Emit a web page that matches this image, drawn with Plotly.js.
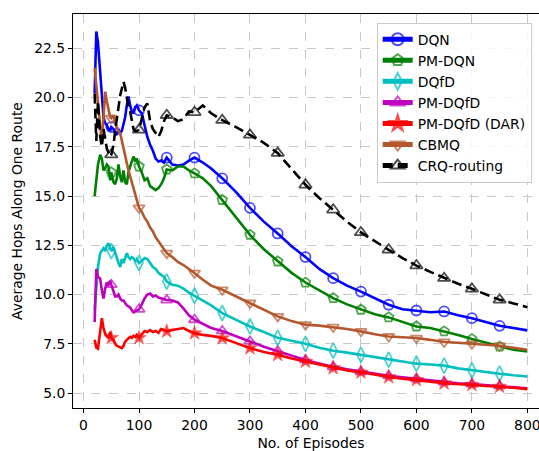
<!DOCTYPE html>
<html>
<head>
<meta charset="utf-8">
<script src="https://cdn.plot.ly/plotly-3.0.1.min.js"></script>
<style>
html, body { margin: 0; padding: 0; overflow: hidden; background: #fff; }
#chart { width: 560px; height: 451px; }
</style>
</head>
<body>
<div id="chart"></div>
<script>
// Episodes (shared x values)
const episodes = [20,23,26,30,33,36,39,42,45,48,
  50,54,57,60,63,66,69,72,75,78,
  81,84,87,90,93,96,100,105,110,115,
  120,125,130,135,140,145,150,160,170,180,
  190,200,215,230,250,275,300,325,350,375,
  400,425,450,475,500,525,550,575,600,625,
  650,675,700,725,750,775,800];

const seriesNames = ["DQN","PM-DQN","DQfD","PM-DQfD","PM-DQfD (DAR)","CBMQ","CRQ-routing"];

const dqn = [20.2,23.35,22.8,21.3,20.3,19.0,18.7,18.6,18.4,18.3,
  18.5,18.4,18.2,18.1,18.4,18.2,18.3,18.6,19.0,19.6,
  20.05,19.6,19.3,19.2,19.5,19.6,19.35,19.2,18.6,18.0,
  17.6,17.3,16.9,16.75,16.8,16.7,16.95,16.6,16.55,16.6,
  16.8,16.95,16.7,16.4,15.9,15.2,14.4,13.7,13.1,12.45,
  11.9,11.3,10.83,10.45,10.15,9.8,9.48,9.25,9.19,9.1,
  9.14,8.95,8.8,8.6,8.41,8.3,8.18];

const pmDqn = [15.0,16.0,16.6,17.1,16.9,16.3,16.4,16.6,16.5,15.8,
  16.2,15.7,15.6,15.9,16.6,16.0,15.7,16.3,15.7,15.6,
  16.2,16.5,16.8,17.0,16.8,16.9,16.5,16.2,15.8,15.9,
  15.5,15.4,15.3,15.4,15.6,15.9,16.35,16.3,16.5,16.5,
  16.3,16.15,15.9,15.5,14.8,13.9,13.03,12.3,11.68,11.1,
  10.61,10.2,9.82,9.5,9.23,9.0,8.84,8.6,8.38,8.3,
  8.13,7.95,7.74,7.55,7.36,7.2,7.11];

const dqfd = [9.2,10.5,11.4,12.1,12.2,12.35,12.2,12.5,12.6,12.4,
  12.2,12.4,12.1,11.8,11.6,11.4,11.8,11.6,11.9,12.1,
  11.9,11.8,11.9,11.85,11.7,11.8,11.6,11.7,11.85,11.8,
  11.6,11.4,11.3,11.1,11.0,10.9,10.66,10.5,10.45,10.3,
  10.1,9.94,9.7,9.45,9.06,8.7,8.38,8.1,7.8,7.65,
  7.5,7.3,7.15,7.05,6.94,6.8,6.69,6.6,6.49,6.45,
  6.39,6.25,6.15,6.05,5.98,5.9,5.84];

const pmDqfd = [8.6,11.3,10.9,10.8,10.2,9.8,10.3,10.6,10.5,10.7,
  10.5,10.2,9.9,9.9,10.0,9.8,9.7,9.7,9.55,9.45,
  9.4,9.35,9.2,9.1,9.15,9.2,9.25,9.5,9.8,10.0,
  10.05,9.9,9.95,9.85,9.8,9.75,9.72,9.7,9.6,9.3,
  8.95,8.72,8.5,8.3,8.15,7.9,7.62,7.35,7.12,6.9,
  6.68,6.5,6.33,6.2,6.08,5.97,5.87,5.8,5.72,5.63,
  5.55,5.5,5.45,5.4,5.36,5.3,5.24];

const pmDqfdDar = [7.7,7.3,7.25,8.0,8.8,8.3,8.0,7.9,7.8,8.1,
  7.8,7.7,7.5,7.4,7.35,7.3,7.28,7.4,7.6,7.7,
  7.8,7.85,7.8,7.9,7.85,7.95,7.8,8.0,8.15,8.1,
  8.2,8.1,8.15,8.05,8.25,8.2,8.13,8.2,8.25,8.3,
  8.15,8.04,7.95,7.9,7.79,7.55,7.28,7.08,6.94,6.75,
  6.6,6.42,6.27,6.15,6.05,5.92,5.81,5.73,5.67,5.58,
  5.5,5.46,5.42,5.37,5.33,5.27,5.2];

const cbmq = [21.5,20.7,19.8,18.8,17.7,19.0,20.3,19.8,19.3,19.0,
  18.95,19.1,18.7,18.5,18.3,18.2,17.8,17.3,17.0,16.67,
  16.3,16.0,15.7,15.48,15.1,14.8,14.4,14.2,13.9,13.7,
  13.4,13.2,12.9,12.7,12.5,12.3,12.1,11.9,11.65,11.5,
  11.3,11.09,10.75,10.45,10.24,9.9,9.57,9.2,8.89,8.65,
  8.47,8.42,8.35,8.25,8.13,7.98,7.87,7.83,7.79,7.7,
  7.59,7.55,7.5,7.45,7.4,7.3,7.2];

const crq = [20.2,17.8,19.8,18.0,17.5,18.4,17.9,17.4,17.2,17.0,
  17.1,17.6,18.3,18.8,19.5,20.1,20.5,20.8,20.5,20.0,
  19.5,19.3,18.9,18.4,18.3,18.3,18.36,18.9,19.5,19.7,
  18.8,18.4,18.2,18.0,18.3,18.8,19.1,19.0,18.8,18.9,
  19.3,19.25,19.6,19.2,18.85,18.5,18.1,17.7,17.18,16.4,
  15.57,14.9,14.3,13.7,13.15,12.7,12.27,11.85,11.47,11.15,
  10.83,10.55,10.29,10.0,9.73,9.55,9.36];

const xTicks = [0,100,200,300,400,500,600,700,800];
const yTicks = [5.0,7.5,10.0,12.5,15.0,17.5,20.0,22.5];

const styles = [
  {color:'#0000ff', symbol:'circle-open', dash:'solid', size:10},
  {color:'#008000', symbol:'pentagon-open', dash:'solid', size:10},
  {color:'#00bfbf', symbol:'diamond-tall-open', dash:'solid', size:11},
  {color:'#bf00bf', symbol:'triangle-up-open', dash:'solid', size:10},
  {color:'#ff0000', symbol:'star', dash:'solid', size:11},
  {color:'#b5572d', symbol:'triangle-down-open', dash:'solid', size:10},
  {color:'#000000', symbol:'triangle-up-open', dash:'10px,5px', size:11}
];

const values = [dqn, pmDqn, dqfd, pmDqfd, pmDqfdDar, cbmq, crq];
const isMarked = episodes.map(v => v % 50 === 0 && v >= 50 && v <= 750);

const traces = values.map((ys, i) => {
  const s = styles[i];
  const filled = s.symbol === 'star';
  return {
    x: episodes, y: ys, name: seriesNames[i],
    type: 'scatter', mode: 'lines+markers',
    line: {color: s.color, width: 2.6, dash: s.dash},
    marker: {
      symbol: s.symbol, color: s.color,
      size: isMarked.map(m => m ? s.size : 0),
      line: {color: s.color, width: filled ? 0.5 : 1.8}
    }
  };
});

const font = {family: 'DejaVu Sans, sans-serif', size: 13.9, color: '#000'};

const layout = {
  width: 560, height: 451,
  margin: {l: 73, r: 11, t: 14, b: 43},
  paper_bgcolor: '#fff', plot_bgcolor: '#fff',
  font: font,
  showlegend: true,
  legend: {
    x: 0.638, y: 0.978, xanchor: 'left', yanchor: 'top',
    bgcolor: 'rgba(255,255,255,0.85)', bordercolor: '#cccccc', borderwidth: 1,
    font: {family: 'DejaVu Sans, sans-serif', size: 13.9, color: '#000'},
    itemsizing: 'constant', tracegroupgap: 0
  },
  xaxis: {
    range: [-19, 839], tickvals: xTicks, ticktext: xTicks.map(String),
    showline: true, mirror: true, linecolor: '#000', linewidth: 1,
    ticks: 'outside', ticklen: 4, tickcolor: '#000',
    showgrid: true, gridcolor: '#c8c8c8', griddash: 'dash', gridwidth: 1,
    zeroline: false,
    title: {text: 'No. of Episodes', font: font, standoff: 6}
  },
  yaxis: {
    range: [4.24, 24.24], tickvals: yTicks, ticktext: yTicks.map(v => v.toFixed(1)),
    showline: true, mirror: true, linecolor: '#000', linewidth: 1,
    ticks: 'outside', ticklen: 4, tickcolor: '#000',
    showgrid: true, gridcolor: '#c8c8c8', griddash: 'dash', gridwidth: 1,
    zeroline: false,
    title: {text: 'Average Hops Along One Route', font: font, standoff: 8}
  }
};

Plotly.newPlot('chart', traces, layout, {displayModeBar: false, staticPlot: true});
</script>
</body>
</html>
